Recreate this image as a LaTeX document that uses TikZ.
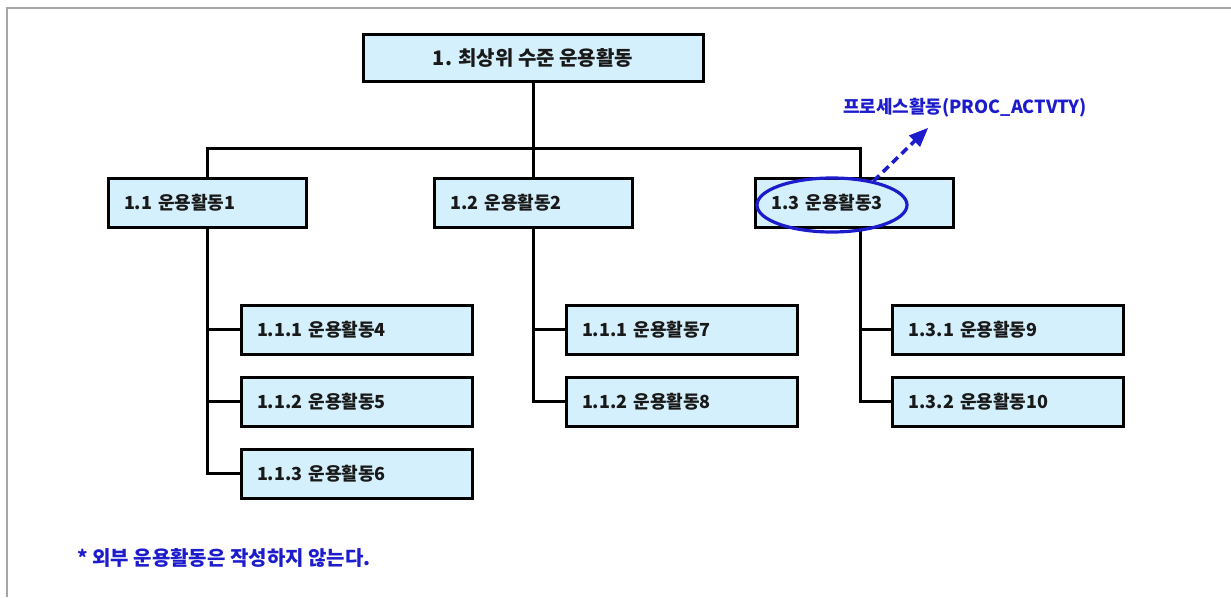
\documentclass[tikz,border=0pt]{standalone}
\usepackage{fontspec}
\setmainfont{Noto Sans CJK KR}
\usetikzlibrary{positioning}
\usetikzlibrary{arrows}
\usetikzlibrary{shapes.geometric}

\definecolor{actfill}{RGB}{212,240,252}
\definecolor{noteblue}{RGB}{28,28,205}

\tikzset{
  topbox/.style={draw,line width=3pt,fill=actfill,minimum width=340pt,minimum height=47pt,inner sep=0pt,font=\fontsize{20}{22}\selectfont\bfseries},
  actbox/.style={draw,line width=3pt,fill=actfill,minimum height=49pt,inner xsep=16pt,inner ysep=0pt,align=left,text width=#1},
  link/.style={line width=3pt},
  notetext/.style={text=noteblue,inner sep=0pt}
}

\begin{document}
\begin{tikzpicture}[x=1pt,y=-1pt,>=triangle 45,font=\fontsize{18}{20}\selectfont\bfseries,text=black!90]
    \useasboundingbox (0,0) rectangle (1231,597);
    \draw [gray!70,line width=1.5pt] (1231,8) -- (7,8) -- (7,597);
    \node (R) [topbox] at (533,57.5) {1. 최상위 수준 운용활동};
    \node (A1) [actbox=166pt] at (207,202.5) {1.1 운용활동1};
    \node (A2) [actbox=166pt] at (533.5,202.5) {1.2 운용활동2};
    \node (A3) [actbox=166pt] at (854.5,202.5) {1.3 운용활동3};
    \node (A11) [actbox=199pt] at (356.5,329.5) {1.1.1 운용활동4};
    \node (A12) [actbox=199pt,below=20pt of A11] {1.1.2 운용활동5};
    \node (A13) [actbox=199pt,below=20pt of A12] {1.1.3 운용활동6};
    \node (A21) [actbox=199pt] at (681.5,329.5) {1.1.1 운용활동7};
    \node (A22) [actbox=199pt,below=20pt of A21] {1.1.2 운용활동8};
    \node (A31) [actbox=199pt] at (1008,329.5) {1.3.1 운용활동9};
    \node (A32) [actbox=199pt,below=20pt of A31] {1.3.2 운용활동10};
    \coordinate (bus) at (R.south |- 0,148);
    \coordinate (t3a) at ([xshift=5.5pt]A3.north);
    \coordinate (t3b) at ([xshift=5.5pt]A3.south);
    \draw [link] (R) -- (bus);
    \draw [link] (A1) |- (bus) -| (t3a);
    \draw [link] (A2) -- (A2 |- bus);
    \draw [link] (A1) |- (A13);
    \draw [link] (A1 |- A11) -- (A11);
    \draw [link] (A1 |- A12) -- (A12);
    \draw [link] (A2) |- (A22);
    \draw [link] (A2 |- A21) -- (A21);
    \draw [link] (t3b) |- (A32);
    \draw [link] (t3b |- A31) -- (A31);
    % highlight of the process activity
    \node (H) [draw=noteblue,line width=3.2pt,ellipse,minimum width=150pt,minimum height=54pt] at (832,205) {};
    \node (P) [notetext] at (965,108) {프로세스활동(PROC\_ACTVTY)};
    \coordinate (tip) at (928,128);
    \draw [noteblue,line width=3.5pt,dash pattern=on 8pt off 5pt,->] (H.30) -- (tip);
    \node (N) [notetext,anchor=west,font=\fontsize{20}{22}\selectfont\bfseries] at (77,558) {* 외부 운용활동은 작성하지 않는다.};
\end{tikzpicture}
\end{document}
